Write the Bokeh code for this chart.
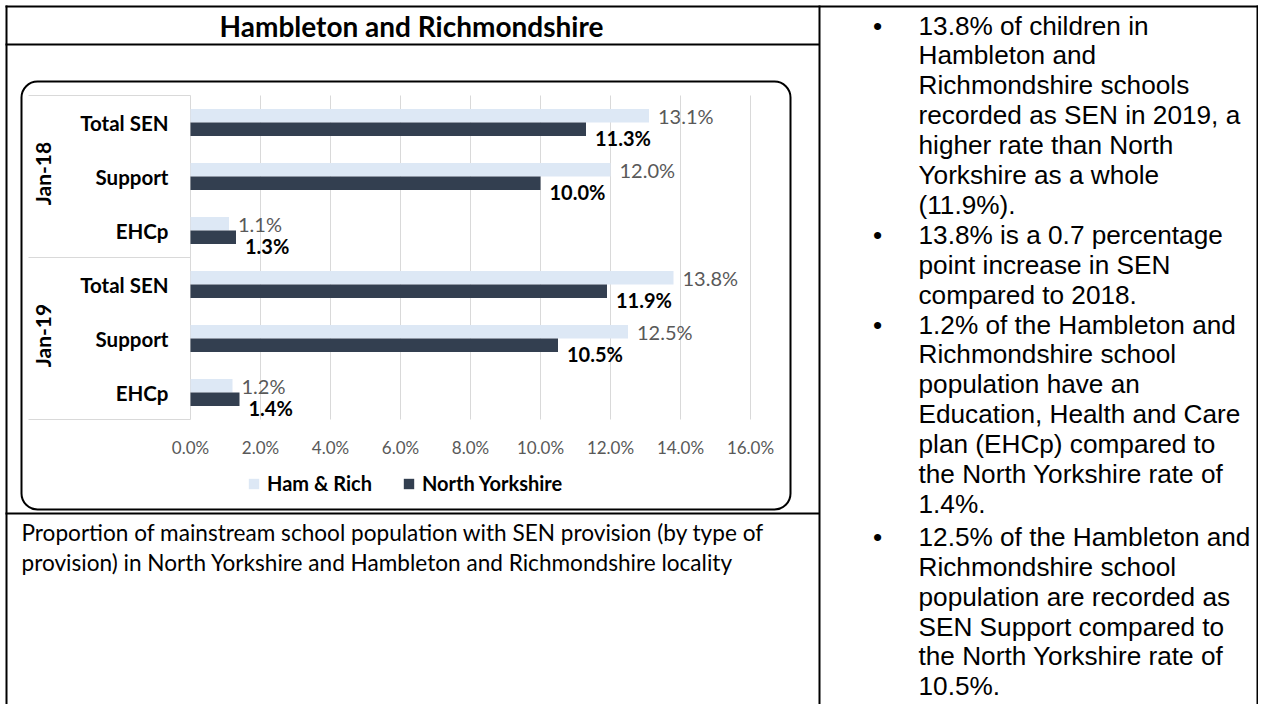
import math
from bokeh.plotting import figure
from bokeh.models import (Range1d, ColumnDataSource, Legend, LegendItem)
from bokeh.transform import dodge
from bokeh.core.properties import value
from bokeh.embed import file_html
from bokeh.resources import INLINE

# ---------------- data ----------------
periods = ["Jan-18", "Jan-19"]
provisions = ["Total SEN", "Support", "EHCp"]
ham_rich = [13.1, 12.0, 1.1, 13.8, 12.5, 1.2]
north_yorkshire = [11.3, 10.0, 1.3, 11.9, 10.5, 1.4]
series_names = ["Ham & Rich", "North Yorkshire"]
x_ticks = [0, 2, 4, 6, 8, 10, 12, 14, 16]
x_tick_labels = ["0.0%", "2.0%", "4.0%", "6.0%", "8.0%", "10.0%", "12.0%", "14.0%", "16.0%"]

title_text = "Hambleton and Richmondshire"
caption_lines = [
    "Proportion of mainstream school population with SEN provision (by type of",
    "provision) in North Yorkshire and Hambleton and Richmondshire locality",
]
bullets = [
    ["13.8% of children in", "Hambleton and", "Richmondshire schools",
     "recorded as SEN in 2019, a", "higher rate than North",
     "Yorkshire as a whole", "(11.9%)."],
    ["13.8% is a 0.7 percentage", "point increase in SEN", "compared to 2018."],
    ["1.2% of the Hambleton and", "Richmondshire school", "population have an",
     "Education, Health and Care", "plan (EHCp) compared to",
     "the North Yorkshire rate of", "1.4%."],
    ["12.5% of the Hambleton and", "Richmondshire school",
     "population are recorded as", "SEN Support compared to",
     "the North Yorkshire rate of", "10.5%."],
]

# ---------------- styling ----------------
FONT = "Lato"
BODY_FONT = "Liberation Sans"
HAM_C = "#DDE8F5"
NY_C = "#333F50"
GRID_C = "#D9D9D9"

W, H = 1258, 704
FL, FR, FT, FB = 190, 750, 95, 419      # chart plot area in canvas px

n_cat = len(periods) * len(provisions)
cat_labels = [s for _ in periods for s in provisions]
pos = [i + 0.5 for i in range(n_cat)]              # slot centres, top to bottom
group_pos = [len(provisions) * (g + 0.5) for g in range(len(periods))]

src = ColumnDataSource(dict(
    pos=pos, cat=cat_labels, ham=ham_rich, ny=north_yorkshire,
    ham_lbl=[f"{v:.1f}%" for v in ham_rich],
    ny_lbl=[f"{v:.1f}%" for v in north_yorkshire],
))

p = figure(width=W, height=H, output_backend="svg", toolbar_location=None,
           x_range=Range1d(0, W), y_range=Range1d(H, 0),
           x_axis_type=None, y_axis_type=None, min_border=0, title=None)
p.outline_line_color = None
p.background_fill_color = "white"
p.border_fill_color = "white"

# chart scales: percent on x, category slots on y (downwards)
PX = (FR - FL) / (x_ticks[-1] - x_ticks[0])
ROW = (FB - FT) / n_cat
p.extra_x_ranges = {"pct": Range1d(x_ticks[0] - FL / PX, x_ticks[-1] + (W - FR) / PX)}
p.extra_y_ranges = {"row": Range1d((H - FT) / ROW, (0 - FT) / ROW)}
C = dict(x_range_name="pct", y_range_name="row")

# gridlines (incl. the 0 % axis line)
p.segment(x0=x_ticks, x1=x_ticks, y0=[0] * len(x_ticks), y1=[n_cat] * len(x_ticks),
          line_color=GRID_C, line_width=1, **C)
# category-axis separators (left of the plot area)
seps = [0, n_cat / 2, n_cat]
p.segment(x0=[28] * 3, x1=[FL] * 3, y0=seps, y1=seps, line_color=GRID_C, line_width=1,
          y_range_name="row")

r_ham = p.hbar(y=dodge("pos", -0.125), left=0, right="ham", height=0.25, source=src,
               fill_color=HAM_C, line_color=None, **C)
r_ny = p.hbar(y=dodge("pos", 0.125), left=0, right="ny", height=0.25, source=src,
              fill_color=NY_C, line_color=None, **C)

p.text(x="ham", y=dodge("pos", -0.125), text="ham_lbl", source=src, x_offset=9,
       text_font=value(FONT), text_font_size="20px", text_color="#595959",
       text_align="left", text_baseline="middle", **C)
p.text(x="ny", y=dodge("pos", 0.125), text="ny_lbl", source=src, x_offset=9, y_offset=9,
       text_font=value(FONT), text_font_size="20px", text_font_style="bold",
       text_color="#000000", text_align="left", text_baseline="middle", **C)

# x tick labels
p.text(x=x_ticks, y=[n_cat] * len(x_ticks), text=x_tick_labels, y_offset=28,
       text_font=value(FONT), text_font_size="17px", text_color="#595959",
       text_align="center", text_baseline="middle", **C)
# category labels
p.text(x=[0] * n_cat, y=pos, text=cat_labels, x_offset=-22,
       text_font=value(FONT), text_font_size="20.5px", text_font_style="bold",
       text_color="#000000", text_align="right", text_baseline="middle", **C)
# group labels
p.text(x=[0] * len(periods), y=group_pos, text=periods, x_offset=42 - FL, y_offset=-3,
       angle=math.pi / 2, text_font=value(FONT), text_font_size="21px",
       text_font_style="bold", text_color="#000000", text_align="center",
       text_baseline="middle", **C)

# legend
legend = Legend(items=[LegendItem(label=series_names[0], renderers=[r_ham]),
                       LegendItem(label=series_names[1], renderers=[r_ny])],
                orientation="horizontal", location=(247, H - 495),
                glyph_width=13, glyph_height=13, label_standoff=7, spacing=30,
                padding=0, margin=0, border_line_color=None, background_fill_alpha=0,
                label_text_font=FONT, label_text_font_size="20px",
                label_text_font_style="bold", label_text_color="#000000")
p.add_layout(legend)

# ---------- page (table) decorations in canvas px ----------
lines_l = [5, 5, W - 2, 818, 5, 5]
lines_r = [W, 7, W, 820, 819, 819]
lines_t = [5, 5, 5, 5, 43, 512]
lines_b = [7, H, H, H, 45, 514]
p.quad(left=lines_l, right=lines_r, top=lines_t, bottom=lines_b,
       fill_color="black", line_color=None)

# rounded chart frame
p.quad(left=[21], right=[790], top=[81], bottom=[509], fill_color=None,
       line_color="black", line_width=2, border_radius=16)

# title & caption
p.text(x=[411], y=[25], text=[title_text], text_font=value(FONT), text_font_size="28px",
       text_font_style="bold", text_color="#000000", text_align="center",
       text_baseline="middle")
p.text(x=[21] * len(caption_lines), y=[532 + 30 * i for i in range(len(caption_lines))],
       text=caption_lines, text_font=value(FONT), text_font_size="22.6px",
       text_color="#000000", text_align="left", text_baseline="middle")

# bullet text
bx, by, tx, ty, tt = [], [], [], [], []
idx = 0
for b_i, lines in enumerate(bullets):
    extra = 3 if b_i == len(bullets) - 1 else 0
    for j, line in enumerate(lines):
        yy = 25 + 29.9 * idx + extra
        if j == 0:
            bx.append(877)
            by.append(yy)
        tx.append(918)
        ty.append(yy)
        tt.append(line)
        idx += 1
p.text(x=tx, y=ty, text=tt, text_font=value(BODY_FONT), text_font_size="26.2px",
       text_color="#000000", text_align="left", text_baseline="middle")
p.text(x=bx, y=by, text=["\u2022"] * len(bx), text_font=value(BODY_FONT),
       text_font_size="26.2px", text_color="#000000", text_align="center",
       text_baseline="middle")

open("out.html", "w").write(file_html(p, INLINE))
